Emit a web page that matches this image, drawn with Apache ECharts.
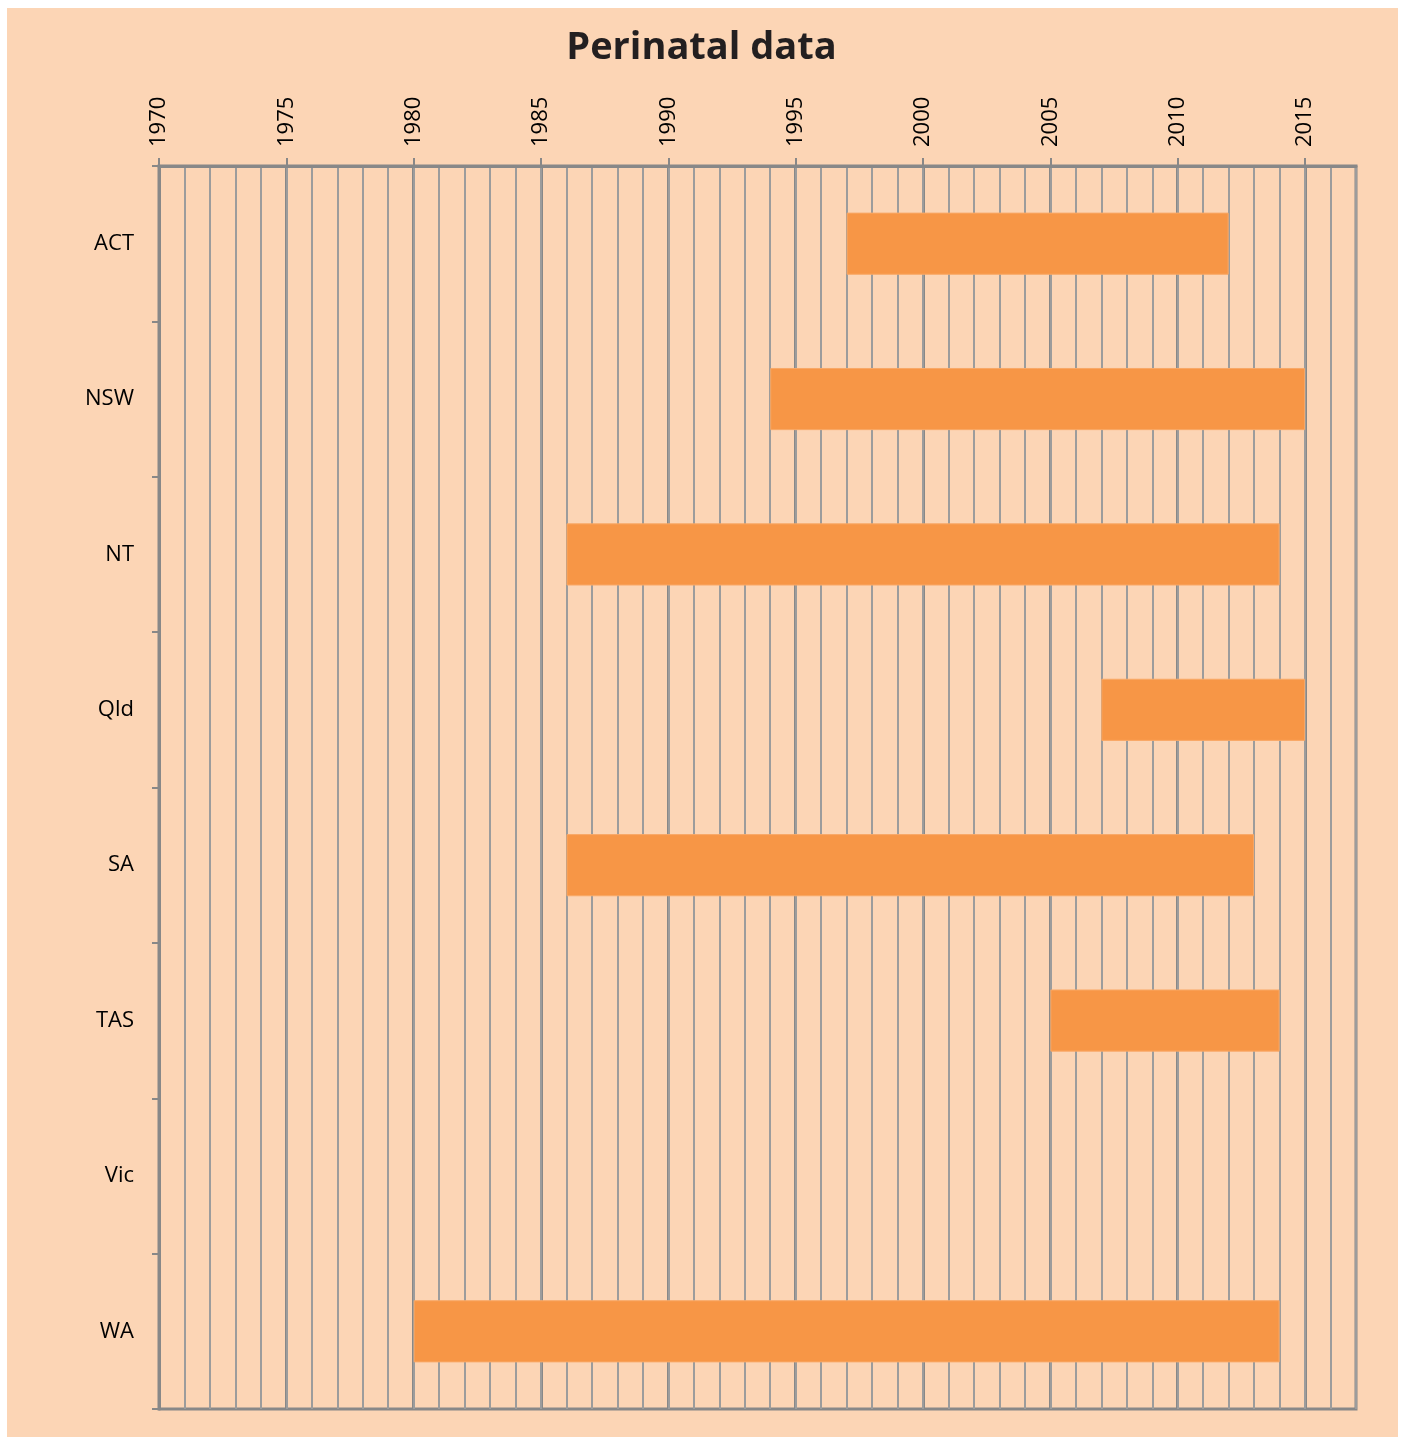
<!DOCTYPE html>
<html>
<head>
<meta charset="utf-8">
<script src="https://cdn.jsdelivr.net/npm/echarts@6/dist/echarts.min.js"></script>
<style>
html,body{margin:0;padding:0;background:#fff;}
#main{width:1403px;height:1437px;}
</style>
</head>
<body>
<div id="main"></div>
<script>
var categories = ['ACT', 'NSW', 'NT', 'Qld', 'SA', 'TAS', 'Vic', 'WA'];
var startYears = [1997, 1994, 1986, 2007, 1986, 2005, null, 1980];
var endYears   = [2012, 2015, 2014, 2015, 2013, 2014, null, 2014];
var yearTicks  = [1970, 1975, 1980, 1985, 1990, 1995, 2000, 2005, 2010, 2015];

var durations = startYears.map(function (s, i) {
  return (s == null || endYears[i] == null) ? null : endYears[i] - s;
});

var chart = echarts.init(document.getElementById('main'));
var font = '"Open Sans", "Liberation Sans", sans-serif';
chart.setOption({
  backgroundColor: '#ffffff',
  animation: false,
  graphic: [{
    type: 'rect', z: -10, silent: true,
    shape: { x: 7, y: 8, width: 1391, height: 1429 },
    style: { fill: '#FCD5B5' }
  }],
  title: {
    text: 'Perinatal data',
    left: 'center', top: 24,
    textStyle: { fontFamily: font, fontWeight: 'bold', fontSize: 38, color: '#231F20' }
  },
  grid: {
    left: 159, right: 47, top: 166, bottom: 28,
    show: true, backgroundColor: 'transparent',
    borderColor: '#888888', borderWidth: 3
  },
  xAxis: [{
    type: 'value', position: 'top', min: 1970, max: 2017, interval: 5,
    axisLine: { show: true, lineStyle: { color: '#888888', width: 3 } },
    axisTick: { show: true, length: 8, customValues: yearTicks, lineStyle: { color: '#888888', width: 2 } },
    axisLabel: {
      customValues: yearTicks, rotate: -90, margin: 19,
      formatter: function (v) { return String(v); },
      fontFamily: font, fontSize: 22, color: '#000000'
    },
    splitLine: { show: true, lineStyle: { color: '#888888', width: 3 } }
  }, {
    type: 'value', position: 'bottom', min: 1970, max: 2017, interval: 1,
    axisLine: { show: false }, axisTick: { show: false }, axisLabel: { show: false },
    splitLine: { show: true, lineStyle: { color: '#9C9C9C', width: 2 } }
  }],
  yAxis: {
    type: 'category', data: categories, inverse: true,
    axisLine: { show: true, lineStyle: { color: '#888888', width: 3 } },
    axisTick: { show: true, length: 7, lineStyle: { color: '#888888', width: 2 } },
    axisLabel: { margin: 25, fontFamily: font, fontSize: 22, color: '#000000' },
    splitLine: { show: false }
  },
  series: [{
    type: 'bar', stack: 'span', xAxisIndex: 0, data: startYears,
    barWidth: '40%', itemStyle: { color: 'rgba(0,0,0,0)' }, silent: true
  }, {
    type: 'bar', stack: 'span', xAxisIndex: 0, data: durations,
    barWidth: '40%', itemStyle: { color: '#F79646', borderColor: '#F9A866', borderWidth: 1 }
  }]
});
</script>
</body>
</html>
